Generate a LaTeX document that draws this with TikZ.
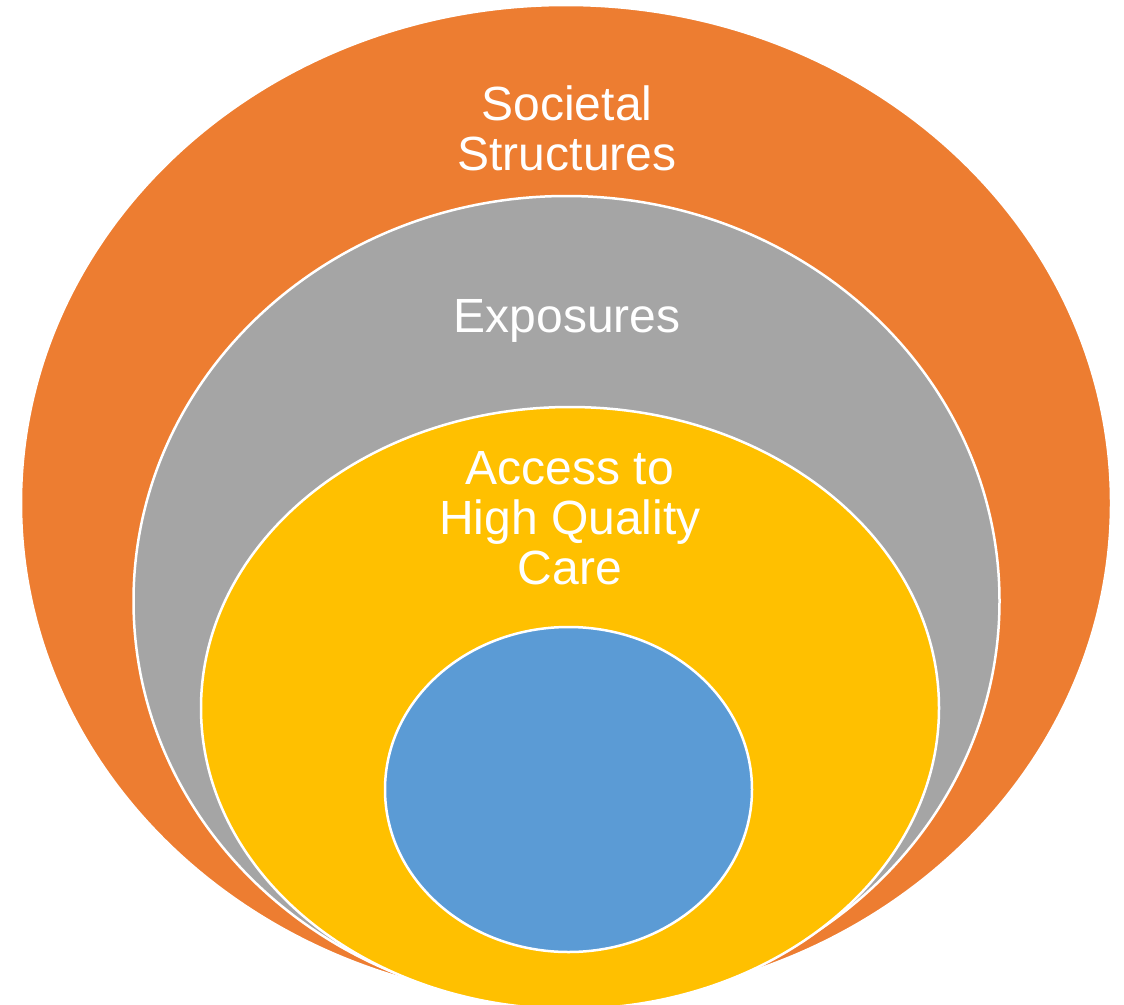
\documentclass[tikz,border=0pt]{standalone}
\usepackage{fontspec}
\setmainfont{Liberation Sans}
\definecolor{ringorange}{HTML}{ED7D31}
\definecolor{ringgray}{HTML}{A5A5A5}
\definecolor{ringyellow}{HTML}{FFC000}
\definecolor{ringblue}{HTML}{5B9BD5}
\begin{document}
\begin{tikzpicture}[x=1pt,y=-1pt,
  ring/.style={draw=white,line width=2.5pt},
  label/.style={text=white,align=center,font=\fontsize{48}{50}\selectfont,inner sep=0pt}]
\useasboundingbox (0,0) rectangle (1124,1004);
\begin{scope}
\clip (0,0) rectangle (1124,1004);
% nested rings, outermost first
\path[ring,fill=ringorange] (566,503) ellipse [x radius=545, y radius=498];
\path[ring,fill=ringgray] (566.5,601) ellipse [x radius=433, y radius=405];
\path[ring,fill=ringyellow] (570,708) ellipse [x radius=369, y radius=301];
\path[ring,fill=ringblue] (568.5,789.5) ellipse [x radius=183.5, y radius=162.5];
\end{scope}
% ring captions
\node[label] (societal) at (567,128) {Societal\\Structures};
\node[label] (exposures) at (567,321) {Exposures};
\node[label] (access) at (570,518) {Access to\\High Quality\\Care};
\end{tikzpicture}
\end{document}
